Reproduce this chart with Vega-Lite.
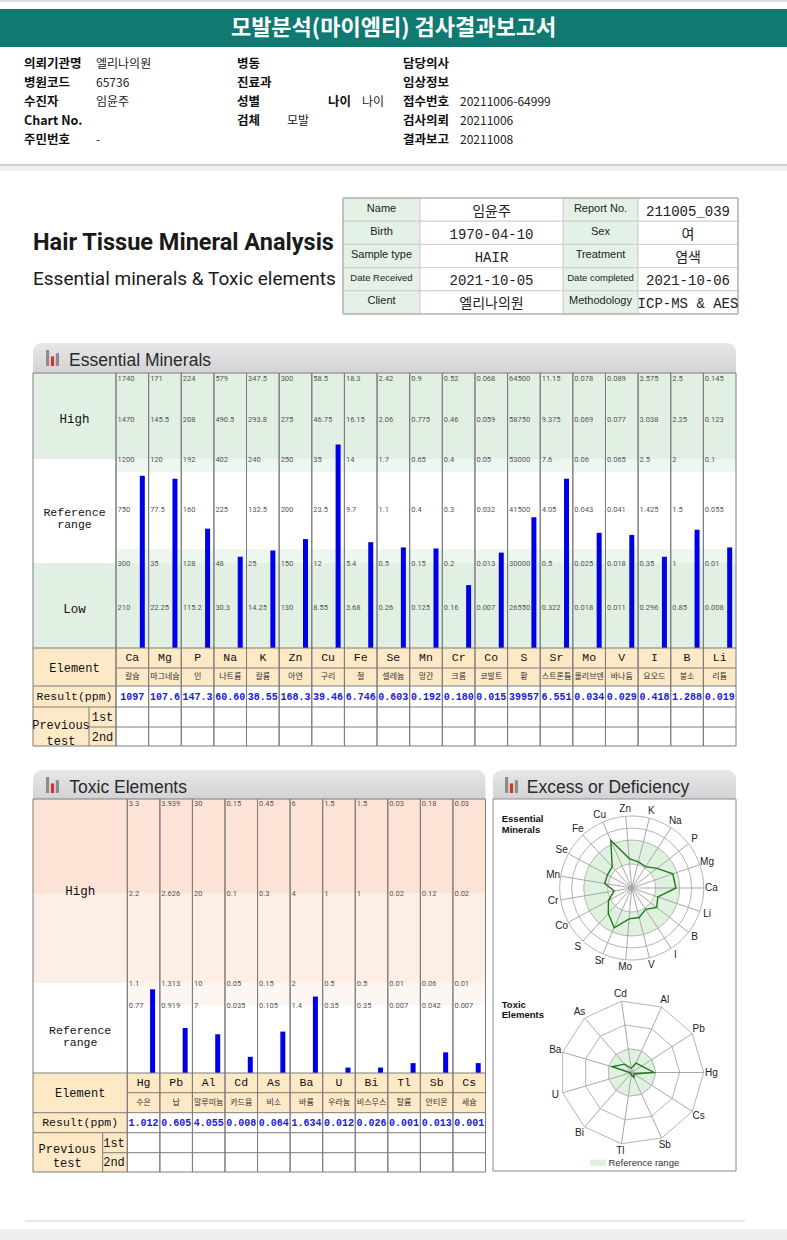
{
"$schema":"https://vega.github.io/schema/vega-lite/v6.json",
"width":787,"height":1240,"padding":0,"autosize":{"type":"none"},"background":"#ffffff",
"config":{"view":{"stroke":null},"axis":{"disable":true},"legend":{"disable":true}},
"resolve":{"scale":{"x":"independent","y":"independent","size":"independent","color":"independent"}},
"datasets":{
"doc":[{"title":"모발분석(마이엠티) 검사결과보고서","main":"Hair Tissue Mineral Analysis","sub":"Essential minerals & Toxic elements"}],
"info":[
{"r":0,"c":0,"k":"l","t":"의뢰기관명"},{"r":0,"c":1,"k":"v","t":"엘리나의원"},{"r":0,"c":2,"k":"l","t":"병동"},{"r":0,"c":6,"k":"l","t":"담당의사"},
{"r":1,"c":0,"k":"l","t":"병원코드"},{"r":1,"c":1,"k":"v","t":"65736"},{"r":1,"c":2,"k":"l","t":"진료과"},{"r":1,"c":6,"k":"l","t":"임상정보"},
{"r":2,"c":0,"k":"l","t":"수진자"},{"r":2,"c":1,"k":"v","t":"임윤주"},{"r":2,"c":2,"k":"l","t":"성별"},{"r":2,"c":4,"k":"l","t":"나이"},{"r":2,"c":5,"k":"v","t":"나이"},{"r":2,"c":6,"k":"l","t":"접수번호"},{"r":2,"c":7,"k":"v","t":"20211006-64999"},
{"r":3,"c":0,"k":"l","t":"Chart No."},{"r":3,"c":2,"k":"l","t":"검체"},{"r":3,"c":3,"k":"v","t":"모발"},{"r":3,"c":6,"k":"l","t":"검사의뢰"},{"r":3,"c":7,"k":"v","t":"20211006"},
{"r":4,"c":0,"k":"l","t":"주민번호"},{"r":4,"c":1,"k":"v","t":"-"},{"r":4,"c":6,"k":"l","t":"결과보고"},{"r":4,"c":7,"k":"v","t":"20211008"}],
"pt":[
{"r":0,"l1":"Name","v1":"임윤주","l2":"Report No.","v2":"211005_039"},
{"r":1,"l1":"Birth","v1":"1970-04-10","l2":"Sex","v2":"여"},
{"r":2,"l1":"Sample type","v1":"HAIR","l2":"Treatment","v2":"염색"},
{"r":3,"l1":"Date Received","v1":"2021-10-05","l2":"Date completed","v2":"2021-10-06"},
{"r":4,"l1":"Client","v1":"엘리나의원","l2":"Methodology","v2":"ICP-MS & AES"}],
"icon":[{"b":0,"h":1,"c":"g"},{"b":1,"h":0.6,"c":"r"},{"b":2,"h":0.8,"c":"g"}],
"ess":[
{"e":"Ca","k":"칼슘","i":0,"s":1.84,"r":"1097"},
{"e":"Mg","k":"마그네슘","i":1,"s":1.81,"r":"107.6"},
{"e":"P","k":"인","i":2,"s":1.33,"r":"147.3"},
{"e":"Na","k":"나트륨","i":3,"s":1.06,"r":"60.60"},
{"e":"K","k":"칼륨","i":4,"s":1.12,"r":"38.55"},
{"e":"Zn","k":"아연","i":5,"s":1.23,"r":"168.3"},
{"e":"Cu","k":"구리","i":6,"s":2.17,"r":"39.46"},
{"e":"Fe","k":"철","i":7,"s":1.2,"r":"6.746"},
{"e":"Se","k":"셀레늄","i":8,"s":1.15,"r":"0.603"},
{"e":"Mn","k":"망간","i":9,"s":1.14,"r":"0.192"},
{"e":"Cr","k":"크롬","i":10,"s":0.74,"r":"0.180"},
{"e":"Co","k":"코발트","i":11,"s":1.1,"r":"0.015"},
{"e":"S","k":"황","i":12,"s":1.44,"r":"39957"},
{"e":"Sr","k":"스트론튬","i":13,"s":1.81,"r":"6.551"},
{"e":"Mo","k":"몰리브덴","i":14,"s":1.29,"r":"0.034"},
{"e":"V","k":"바나듐","i":15,"s":1.27,"r":"0.029"},
{"e":"I","k":"요오드","i":16,"s":1.06,"r":"0.418"},
{"e":"B","k":"붕소","i":17,"s":1.32,"r":"1.288"},
{"e":"Li","k":"리튬","i":18,"s":1.15,"r":"0.019"}],
"essLab":[
{"e":"Ca","t":5,"v":"1740"},{"e":"Ca","t":4,"v":"1470"},{"e":"Ca","t":3,"v":"1200"},{"e":"Ca","t":2,"v":"750"},{"e":"Ca","t":1,"v":"300"},{"e":"Ca","t":0,"v":"210"},
{"e":"Mg","t":5,"v":"171"},{"e":"Mg","t":4,"v":"145.5"},{"e":"Mg","t":3,"v":"120"},{"e":"Mg","t":2,"v":"77.5"},{"e":"Mg","t":1,"v":"35"},{"e":"Mg","t":0,"v":"22.25"},
{"e":"P","t":5,"v":"224"},{"e":"P","t":4,"v":"208"},{"e":"P","t":3,"v":"192"},{"e":"P","t":2,"v":"160"},{"e":"P","t":1,"v":"128"},{"e":"P","t":0,"v":"115.2"},
{"e":"Na","t":5,"v":"579"},{"e":"Na","t":4,"v":"490.5"},{"e":"Na","t":3,"v":"402"},{"e":"Na","t":2,"v":"225"},{"e":"Na","t":1,"v":"48"},{"e":"Na","t":0,"v":"30.3"},
{"e":"K","t":5,"v":"347.5"},{"e":"K","t":4,"v":"293.8"},{"e":"K","t":3,"v":"240"},{"e":"K","t":2,"v":"132.5"},{"e":"K","t":1,"v":"25"},{"e":"K","t":0,"v":"14.25"},
{"e":"Zn","t":5,"v":"300"},{"e":"Zn","t":4,"v":"275"},{"e":"Zn","t":3,"v":"250"},{"e":"Zn","t":2,"v":"200"},{"e":"Zn","t":1,"v":"150"},{"e":"Zn","t":0,"v":"130"},
{"e":"Cu","t":5,"v":"58.5"},{"e":"Cu","t":4,"v":"46.75"},{"e":"Cu","t":3,"v":"35"},{"e":"Cu","t":2,"v":"23.5"},{"e":"Cu","t":1,"v":"12"},{"e":"Cu","t":0,"v":"8.55"},
{"e":"Fe","t":5,"v":"18.3"},{"e":"Fe","t":4,"v":"16.15"},{"e":"Fe","t":3,"v":"14"},{"e":"Fe","t":2,"v":"9.7"},{"e":"Fe","t":1,"v":"5.4"},{"e":"Fe","t":0,"v":"3.68"},
{"e":"Se","t":5,"v":"2.42"},{"e":"Se","t":4,"v":"2.06"},{"e":"Se","t":3,"v":"1.7"},{"e":"Se","t":2,"v":"1.1"},{"e":"Se","t":1,"v":"0.5"},{"e":"Se","t":0,"v":"0.26"},
{"e":"Mn","t":5,"v":"0.9"},{"e":"Mn","t":4,"v":"0.775"},{"e":"Mn","t":3,"v":"0.65"},{"e":"Mn","t":2,"v":"0.4"},{"e":"Mn","t":1,"v":"0.15"},{"e":"Mn","t":0,"v":"0.125"},
{"e":"Cr","t":5,"v":"0.52"},{"e":"Cr","t":4,"v":"0.46"},{"e":"Cr","t":3,"v":"0.4"},{"e":"Cr","t":2,"v":"0.3"},{"e":"Cr","t":1,"v":"0.2"},{"e":"Cr","t":0,"v":"0.16"},
{"e":"Co","t":5,"v":"0.068"},{"e":"Co","t":4,"v":"0.059"},{"e":"Co","t":3,"v":"0.05"},{"e":"Co","t":2,"v":"0.032"},{"e":"Co","t":1,"v":"0.013"},{"e":"Co","t":0,"v":"0.007"},
{"e":"S","t":5,"v":"64500"},{"e":"S","t":4,"v":"58750"},{"e":"S","t":3,"v":"53000"},{"e":"S","t":2,"v":"41500"},{"e":"S","t":1,"v":"30000"},{"e":"S","t":0,"v":"26550"},
{"e":"Sr","t":5,"v":"11.15"},{"e":"Sr","t":4,"v":"9.375"},{"e":"Sr","t":3,"v":"7.6"},{"e":"Sr","t":2,"v":"4.05"},{"e":"Sr","t":1,"v":"0.5"},{"e":"Sr","t":0,"v":"0.322"},
{"e":"Mo","t":5,"v":"0.078"},{"e":"Mo","t":4,"v":"0.069"},{"e":"Mo","t":3,"v":"0.06"},{"e":"Mo","t":2,"v":"0.043"},{"e":"Mo","t":1,"v":"0.025"},{"e":"Mo","t":0,"v":"0.018"},
{"e":"V","t":5,"v":"0.089"},{"e":"V","t":4,"v":"0.077"},{"e":"V","t":3,"v":"0.065"},{"e":"V","t":2,"v":"0.041"},{"e":"V","t":1,"v":"0.018"},{"e":"V","t":0,"v":"0.011"},
{"e":"I","t":5,"v":"3.575"},{"e":"I","t":4,"v":"3.038"},{"e":"I","t":3,"v":"2.5"},{"e":"I","t":2,"v":"1.425"},{"e":"I","t":1,"v":"0.35"},{"e":"I","t":0,"v":"0.296"},
{"e":"B","t":5,"v":"2.5"},{"e":"B","t":4,"v":"2.25"},{"e":"B","t":3,"v":"2"},{"e":"B","t":2,"v":"1.5"},{"e":"B","t":1,"v":"1"},{"e":"B","t":0,"v":"0.85"},
{"e":"Li","t":5,"v":"0.145"},{"e":"Li","t":4,"v":"0.123"},{"e":"Li","t":3,"v":"0.1"},{"e":"Li","t":2,"v":"0.055"},{"e":"Li","t":1,"v":"0.01"},{"e":"Li","t":0,"v":"0.008"}],
"tox":[
{"e":"Hg","k":"수은","i":0,"s":0.93,"r":"1.012"},
{"e":"Pb","k":"납","i":1,"s":0.5,"r":"0.605"},
{"e":"Al","k":"알루미늄","i":2,"s":0.43,"r":"4.055"},
{"e":"Cd","k":"카드뮴","i":3,"s":0.18,"r":"0.008"},
{"e":"As","k":"비소","i":4,"s":0.46,"r":"0.064"},
{"e":"Ba","k":"바륨","i":5,"s":0.85,"r":"1.634"},
{"e":"U","k":"우라늄","i":6,"s":0.06,"r":"0.012"},
{"e":"Bi","k":"비스무스","i":7,"s":0.06,"r":"0.026"},
{"e":"Tl","k":"탈륨","i":8,"s":0.11,"r":"0.001"},
{"e":"Sb","k":"안티몬","i":9,"s":0.23,"r":"0.013"},
{"e":"Cs","k":"세슘","i":10,"s":0.11,"r":"0.001"}],
"toxLab":[
{"e":"Hg","t":3,"v":"3.3"},{"e":"Hg","t":2,"v":"2.2"},{"e":"Hg","t":1,"v":"1.1"},{"e":"Hg","t":0,"v":"0.77"},
{"e":"Pb","t":3,"v":"3.939"},{"e":"Pb","t":2,"v":"2.626"},{"e":"Pb","t":1,"v":"1.313"},{"e":"Pb","t":0,"v":"0.919"},
{"e":"Al","t":3,"v":"30"},{"e":"Al","t":2,"v":"20"},{"e":"Al","t":1,"v":"10"},{"e":"Al","t":0,"v":"7"},
{"e":"Cd","t":3,"v":"0.15"},{"e":"Cd","t":2,"v":"0.1"},{"e":"Cd","t":1,"v":"0.05"},{"e":"Cd","t":0,"v":"0.035"},
{"e":"As","t":3,"v":"0.45"},{"e":"As","t":2,"v":"0.3"},{"e":"As","t":1,"v":"0.15"},{"e":"As","t":0,"v":"0.105"},
{"e":"Ba","t":3,"v":"6"},{"e":"Ba","t":2,"v":"4"},{"e":"Ba","t":1,"v":"2"},{"e":"Ba","t":0,"v":"1.4"},
{"e":"U","t":3,"v":"1.5"},{"e":"U","t":2,"v":"1"},{"e":"U","t":1,"v":"0.5"},{"e":"U","t":0,"v":"0.35"},
{"e":"Bi","t":3,"v":"1.5"},{"e":"Bi","t":2,"v":"1"},{"e":"Bi","t":1,"v":"0.5"},{"e":"Bi","t":0,"v":"0.35"},
{"e":"Tl","t":3,"v":"0.03"},{"e":"Tl","t":2,"v":"0.02"},{"e":"Tl","t":1,"v":"0.01"},{"e":"Tl","t":0,"v":"0.007"},
{"e":"Sb","t":3,"v":"0.18"},{"e":"Sb","t":2,"v":"0.12"},{"e":"Sb","t":1,"v":"0.06"},{"e":"Sb","t":0,"v":"0.042"},
{"e":"Cs","t":3,"v":"0.03"},{"e":"Cs","t":2,"v":"0.02"},{"e":"Cs","t":1,"v":"0.01"},{"e":"Cs","t":0,"v":"0.007"}],
"ringE":[{"ring":1},{"ring":2},{"ring":2.5},{"ring":3}],
"tgrid":[{"lv":1,"k":[0,1,2,3,4,5,6,7,8,9,10]},{"lv":2,"k":[0,1,2,3,4,5,6,7,8,9,10]},{"lv":3,"k":[0,1,2,3,4,5,6,7,8,9,10]}]
},
"data":{"name":"doc"},
"layer":[
{"mark":{"type":"rule","color":"#bcbcbc","strokeWidth":1},"encoding":{"x":{"datum":0,"type":"quantitative","scale":{"domain":[0,1],"range":[0,787]}},"x2":{"datum":1},"y":{"datum":0,"type":"quantitative","scale":{"domain":[0,1],"range":[1,2]}}}},
{"mark":{"type":"rect","color":"#107a72"},"encoding":{"x":{"datum":0,"type":"quantitative","scale":{"domain":[0,1],"range":[0,787]}},"x2":{"datum":1},"y":{"datum":0,"type":"quantitative","scale":{"domain":[0,1],"range":[9,47]}},"y2":{"datum":1}}},
{"mark":{"type":"text","color":"#ffffff","font":"Noto Sans CJK KR","fontSize":22,"fontWeight":"bold","align":"center","baseline":"middle"},"encoding":{"text":{"field":"title"},"x":{"datum":0.5,"type":"quantitative","scale":{"domain":[0,1],"range":[0,787]}},"y":{"datum":0.5,"type":"quantitative","scale":{"domain":[0,1],"range":[9,47]}}}},

{"data":{"name":"info"},"transform":[{"filter":"datum.k=='l'"}],"mark":{"type":"text","align":"left","baseline":"middle","font":"Noto Sans CJK KR","fontSize":12.5,"fontWeight":"bold","color":"#111111"},"encoding":{"text":{"field":"t"},"x":{"field":"c","type":"quantitative","scale":{"domain":[0,1,2,3,4,5,6,7],"range":[24,96,237,287,328,362,403,460],"zero":false,"nice":false}},"y":{"field":"r","type":"quantitative","scale":{"domain":[0,4],"range":[64,140],"zero":false,"nice":false}}}},
{"data":{"name":"info"},"transform":[{"filter":"datum.k=='v'"}],"mark":{"type":"text","align":"left","baseline":"middle","font":"Noto Sans CJK KR","fontSize":12,"color":"#222222"},"encoding":{"text":{"field":"t"},"x":{"field":"c","type":"quantitative","scale":{"domain":[0,1,2,3,4,5,6,7],"range":[24,96,237,287,328,362,403,460],"zero":false,"nice":false}},"y":{"field":"r","type":"quantitative","scale":{"domain":[0,4],"range":[64,140],"zero":false,"nice":false}}}},

{"mark":{"type":"rect","color":"#efefef"},"encoding":{"x":{"datum":0,"type":"quantitative","scale":{"domain":[0,1],"range":[0,787]}},"x2":{"datum":1},"y":{"datum":0.17,"type":"quantitative","scale":{"domain":[0,1],"range":[165,171]}},"y2":{"datum":1}}},
{"mark":{"type":"rule","color":"#a0a0a0","strokeWidth":1},"encoding":{"x":{"datum":0,"type":"quantitative","scale":{"domain":[0,1],"range":[0,787]}},"x2":{"datum":1},"y":{"datum":0,"type":"quantitative","scale":{"domain":[0,1],"range":[165,171]}}}},

{"mark":{"type":"text","align":"left","baseline":"alphabetic","font":"Roboto","fontSize":23.5,"fontWeight":"bold","color":"#1a1a1a"},"encoding":{"text":{"field":"main"},"x":{"datum":0,"type":"quantitative","scale":{"domain":[0,1],"range":[33,787]}},"y":{"datum":0,"type":"quantitative","scale":{"domain":[0,1],"range":[250,285]}}}},
{"mark":{"type":"text","align":"left","baseline":"alphabetic","font":"Roboto","fontSize":19,"color":"#1a1a1a"},"encoding":{"text":{"field":"sub"},"x":{"datum":0,"type":"quantitative","scale":{"domain":[0,1],"range":[33,787]}},"y":{"datum":1,"type":"quantitative","scale":{"domain":[0,1],"range":[250,285]}}}},

{"data":{"name":"pt"},"mark":{"type":"rect","fill":"#e4f1e6","stroke":"#cfcfcf","strokeWidth":1},"encoding":{"x":{"datum":0,"type":"quantitative","scale":{"domain":[0,1,2,3,4],"range":[343,420,563,638,738],"zero":false,"nice":false}},"x2":{"datum":1},"y":{"field":"r","type":"ordinal","scale":{"type":"band","domain":[0,1,2,3,4],"range":[198,314],"paddingInner":0,"paddingOuter":0}}}},
{"data":{"name":"pt"},"mark":{"type":"rect","fill":"#e4f1e6","stroke":"#cfcfcf","strokeWidth":1},"encoding":{"x":{"datum":2,"type":"quantitative","scale":{"domain":[0,1,2,3,4],"range":[343,420,563,638,738],"zero":false,"nice":false}},"x2":{"datum":3},"y":{"field":"r","type":"ordinal","scale":{"type":"band","domain":[0,1,2,3,4],"range":[198,314],"paddingInner":0,"paddingOuter":0}}}},
{"data":{"name":"pt"},"mark":{"type":"rect","fill":"#ffffff","stroke":"#cfcfcf","strokeWidth":1},"encoding":{"x":{"datum":1,"type":"quantitative","scale":{"domain":[0,1,2,3,4],"range":[343,420,563,638,738],"zero":false,"nice":false}},"x2":{"datum":2},"y":{"field":"r","type":"ordinal","scale":{"type":"band","domain":[0,1,2,3,4],"range":[198,314],"paddingInner":0,"paddingOuter":0}}}},
{"data":{"name":"pt"},"mark":{"type":"rect","fill":"#ffffff","stroke":"#cfcfcf","strokeWidth":1},"encoding":{"x":{"datum":3,"type":"quantitative","scale":{"domain":[0,1,2,3,4],"range":[343,420,563,638,738],"zero":false,"nice":false}},"x2":{"datum":4},"y":{"field":"r","type":"ordinal","scale":{"type":"band","domain":[0,1,2,3,4],"range":[198,314],"paddingInner":0,"paddingOuter":0}}}},
{"mark":{"type":"rect","fillOpacity":0,"stroke":"#a0a0a0","strokeWidth":1},"encoding":{"x":{"datum":0,"type":"quantitative","scale":{"domain":[0,1,2,3,4],"range":[343,420,563,638,738],"zero":false,"nice":false}},"x2":{"datum":4},"y":{"datum":0,"type":"quantitative","scale":{"domain":[0,1],"range":[198,314]}},"y2":{"datum":1}}},
{"data":{"name":"pt"},"transform":[{"filter":"length(datum.l1)<=12"}],"mark":{"type":"text","align":"center","baseline":"middle","font":"Liberation Sans","fontSize":11,"dy":-1,"color":"#222222"},"encoding":{"text":{"field":"l1"},"x":{"datum":0.5,"type":"quantitative","scale":{"domain":[0,1,2,3,4],"range":[343,420,563,638,738],"zero":false,"nice":false}},"y":{"field":"r","type":"ordinal","scale":{"type":"band","domain":[0,1,2,3,4],"range":[198,314],"paddingInner":0,"paddingOuter":0}}}},
{"data":{"name":"pt"},"transform":[{"filter":"length(datum.l1)>12"}],"mark":{"type":"text","align":"center","baseline":"middle","font":"Liberation Sans","fontSize":9.5,"dy":-1,"color":"#222222"},"encoding":{"text":{"field":"l1"},"x":{"datum":0.5,"type":"quantitative","scale":{"domain":[0,1,2,3,4],"range":[343,420,563,638,738],"zero":false,"nice":false}},"y":{"field":"r","type":"ordinal","scale":{"type":"band","domain":[0,1,2,3,4],"range":[198,314],"paddingInner":0,"paddingOuter":0}}}},
{"data":{"name":"pt"},"transform":[{"filter":"length(datum.l2)<=12"}],"mark":{"type":"text","align":"center","baseline":"middle","font":"Liberation Sans","fontSize":11,"dy":-1,"color":"#222222"},"encoding":{"text":{"field":"l2"},"x":{"datum":2.5,"type":"quantitative","scale":{"domain":[0,1,2,3,4],"range":[343,420,563,638,738],"zero":false,"nice":false}},"y":{"field":"r","type":"ordinal","scale":{"type":"band","domain":[0,1,2,3,4],"range":[198,314],"paddingInner":0,"paddingOuter":0}}}},
{"data":{"name":"pt"},"transform":[{"filter":"length(datum.l2)>12"}],"mark":{"type":"text","align":"center","baseline":"middle","font":"Liberation Sans","fontSize":9.5,"dy":-1,"color":"#222222"},"encoding":{"text":{"field":"l2"},"x":{"datum":2.5,"type":"quantitative","scale":{"domain":[0,1,2,3,4],"range":[343,420,563,638,738],"zero":false,"nice":false}},"y":{"field":"r","type":"ordinal","scale":{"type":"band","domain":[0,1,2,3,4],"range":[198,314],"paddingInner":0,"paddingOuter":0}}}},
{"data":{"name":"pt"},"mark":{"type":"text","align":"center","baseline":"middle","font":"Liberation Mono, Noto Sans CJK KR","fontSize":14,"dy":2,"color":"#222222"},"encoding":{"text":{"field":"v1"},"x":{"datum":1.5,"type":"quantitative","scale":{"domain":[0,1,2,3,4],"range":[343,420,563,638,738],"zero":false,"nice":false}},"y":{"field":"r","type":"ordinal","scale":{"type":"band","domain":[0,1,2,3,4],"range":[198,314],"paddingInner":0,"paddingOuter":0}}}},
{"data":{"name":"pt"},"mark":{"type":"text","align":"center","baseline":"middle","font":"Liberation Mono, Noto Sans CJK KR","fontSize":14,"dy":2,"color":"#222222"},"encoding":{"text":{"field":"v2"},"x":{"datum":3.5,"type":"quantitative","scale":{"domain":[0,1,2,3,4],"range":[343,420,563,638,738],"zero":false,"nice":false}},"y":{"field":"r","type":"ordinal","scale":{"type":"band","domain":[0,1,2,3,4],"range":[198,314],"paddingInner":0,"paddingOuter":0}}}},

{"mark":{"type":"rect","cornerRadiusTopLeft":9,"cornerRadiusTopRight":9,"color":{"gradient":"linear","x1":0,"y1":0,"x2":0,"y2":1,"stops":[{"offset":0,"color":"#e7e7e9"},{"offset":1,"color":"#d3d3d6"}]}},"encoding":{"x":{"datum":-1,"type":"quantitative","scale":{"domain":[-1,0,19],"range":[33,116,736],"zero":false,"nice":false}},"x2":{"datum":19},"y":{"datum":0,"type":"quantitative","scale":{"domain":[0,1],"range":[373,343]}},"y2":{"datum":1}}},
{"data":{"name":"icon"},"mark":{"type":"bar"},"encoding":{"x":{"field":"b","type":"ordinal","scale":{"type":"band","domain":[0,1,2],"range":[46,59],"paddingInner":0.35,"paddingOuter":0}},"y":{"field":"h","type":"quantitative","scale":{"domain":[0,1],"range":[366,350]}},"color":{"field":"c","type":"nominal","scale":{"domain":["g","r"],"range":["#8c8c8c","#d9302a"]}}}},
{"mark":{"type":"text","text":"Essential Minerals","align":"left","baseline":"alphabetic","font":"Liberation Sans","fontSize":17.5,"color":"#2a2a2a"},"encoding":{"x":{"datum":-0.566,"type":"quantitative","scale":{"domain":[-1,0,19],"range":[33,116,736],"zero":false,"nice":false}},"y":{"datum":0.22,"type":"quantitative","scale":{"domain":[0,1],"range":[373,343]}}}},

{"mark":{"type":"rect","color":"#e1f0e3"},"encoding":{"x":{"datum":-1,"type":"quantitative","scale":{"domain":[-1,0,19],"range":[33,116,736],"zero":false,"nice":false}},"x2":{"datum":19},"y":{"datum":2,"type":"quantitative","scale":{"domain":[-5,-4,-3,-2,-1,0,1,2,3],"range":[746,727,707,686,668,648,563,459,373],"zero":false,"nice":false}},"y2":{"datum":3}}},
{"mark":{"type":"rect","color":"#e1f0e3"},"encoding":{"x":{"datum":-1,"type":"quantitative","scale":{"domain":[-1,0,19],"range":[33,116,736],"zero":false,"nice":false}},"x2":{"datum":19},"y":{"datum":0,"type":"quantitative","scale":{"domain":[-5,-4,-3,-2,-1,0,1,2,3],"range":[746,727,707,686,668,648,563,459,373],"zero":false,"nice":false}},"y2":{"datum":1}}},
{"mark":{"type":"rect","color":"#eef7ef"},"encoding":{"x":{"datum":0,"type":"quantitative","scale":{"domain":[-1,0,19],"range":[33,116,736],"zero":false,"nice":false}},"x2":{"datum":19},"y":{"datum":1.875,"type":"quantitative","scale":{"domain":[-5,-4,-3,-2,-1,0,1,2,3],"range":[746,727,707,686,668,648,563,459,373],"zero":false,"nice":false}},"y2":{"datum":2}}},
{"mark":{"type":"rect","color":"#eef7ef"},"encoding":{"x":{"datum":0,"type":"quantitative","scale":{"domain":[-1,0,19],"range":[33,116,736],"zero":false,"nice":false}},"x2":{"datum":19},"y":{"datum":1,"type":"quantitative","scale":{"domain":[-5,-4,-3,-2,-1,0,1,2,3],"range":[746,727,707,686,668,648,563,459,373],"zero":false,"nice":false}},"y2":{"datum":1.135}}},
{"mark":{"type":"rect","color":"#fde9c6"},"encoding":{"x":{"datum":-1,"type":"quantitative","scale":{"domain":[-1,0,19],"range":[33,116,736],"zero":false,"nice":false}},"x2":{"datum":19},"y":{"datum":-2,"type":"quantitative","scale":{"domain":[-5,-4,-3,-2,-1,0,1,2,3],"range":[746,727,707,686,668,648,563,459,373],"zero":false,"nice":false}},"y2":{"datum":0}}},
{"mark":{"type":"rect","color":"#fde9c6"},"encoding":{"x":{"datum":-1,"type":"quantitative","scale":{"domain":[-1,0,19],"range":[33,116,736],"zero":false,"nice":false}},"x2":{"datum":0},"y":{"datum":-5,"type":"quantitative","scale":{"domain":[-5,-4,-3,-2,-1,0,1,2,3],"range":[746,727,707,686,668,648,563,459,373],"zero":false,"nice":false}},"y2":{"datum":-2}}},

{"data":{"name":"essLab"},"mark":{"type":"text","align":"left","baseline":"middle","dx":1.5,"font":"Roboto","fontSize":7.5,"color":"#555555"},"encoding":{"text":{"field":"v"},"x":{"field":"e","type":"nominal","bandPosition":0,"scale":{"type":"band","domain":["Ca","Mg","P","Na","K","Zn","Cu","Fe","Se","Mn","Cr","Co","S","Sr","Mo","V","I","B","Li"],"range":[116,736],"paddingInner":0,"paddingOuter":0}},"y":{"field":"t","type":"quantitative","scale":{"domain":[0,1,2,3,4,5],"range":[608,564,510,460,420,379],"zero":false,"nice":false}}}},
{"data":{"name":"ess"},"mark":{"type":"bar","width":5,"xOffset":10,"color":"#0000e6"},"encoding":{"x":{"field":"e","type":"nominal","scale":{"type":"band","domain":["Ca","Mg","P","Na","K","Zn","Cu","Fe","Se","Mn","Cr","Co","S","Sr","Mo","V","I","B","Li"],"range":[116,736],"paddingInner":0,"paddingOuter":0}},"y":{"field":"s","type":"quantitative","scale":{"domain":[-5,-4,-3,-2,-1,0,1,2,3],"range":[746,727,707,686,668,648,563,459,373],"zero":false,"nice":false}}}},

{"data":{"name":"ess"},"mark":{"type":"rect","fillOpacity":0,"stroke":"#7d7d7d","strokeWidth":1},"encoding":{"x":{"field":"e","type":"nominal","scale":{"type":"band","domain":["Ca","Mg","P","Na","K","Zn","Cu","Fe","Se","Mn","Cr","Co","S","Sr","Mo","V","I","B","Li"],"range":[116,736],"paddingInner":0,"paddingOuter":0}},"y":{"datum":-5,"type":"quantitative","scale":{"domain":[-5,-4,-3,-2,-1,0,1,2,3],"range":[746,727,707,686,668,648,563,459,373],"zero":false,"nice":false}},"y2":{"datum":3}}},
{"mark":{"type":"rect","fillOpacity":0,"stroke":"#7d7d7d","strokeWidth":1},"encoding":{"x":{"datum":-1,"type":"quantitative","scale":{"domain":[-1,0,19],"range":[33,116,736],"zero":false,"nice":false}},"x2":{"datum":0},"y":{"datum":-5,"type":"quantitative","scale":{"domain":[-5,-4,-3,-2,-1,0,1,2,3],"range":[746,727,707,686,668,648,563,459,373],"zero":false,"nice":false}},"y2":{"datum":3}}},
{"mark":{"type":"rule","color":"#7d7d7d","strokeWidth":1},"encoding":{"x":{"datum":-1,"type":"quantitative","scale":{"domain":[-1,0,19],"range":[33,116,736],"zero":false,"nice":false}},"x2":{"datum":19},"y":{"datum":0,"type":"quantitative","scale":{"domain":[-5,-4,-3,-2,-1,0,1,2,3],"range":[746,727,707,686,668,648,563,459,373],"zero":false,"nice":false}}}},
{"mark":{"type":"rule","color":"#7d7d7d","strokeWidth":1},"encoding":{"x":{"datum":0,"type":"quantitative","scale":{"domain":[-1,0,19],"range":[33,116,736],"zero":false,"nice":false}},"x2":{"datum":19},"y":{"datum":-1,"type":"quantitative","scale":{"domain":[-5,-4,-3,-2,-1,0,1,2,3],"range":[746,727,707,686,668,648,563,459,373],"zero":false,"nice":false}}}},
{"mark":{"type":"rule","color":"#7d7d7d","strokeWidth":1},"encoding":{"x":{"datum":-1,"type":"quantitative","scale":{"domain":[-1,0,19],"range":[33,116,736],"zero":false,"nice":false}},"x2":{"datum":19},"y":{"datum":-2,"type":"quantitative","scale":{"domain":[-5,-4,-3,-2,-1,0,1,2,3],"range":[746,727,707,686,668,648,563,459,373],"zero":false,"nice":false}}}},
{"mark":{"type":"rule","color":"#7d7d7d","strokeWidth":1},"encoding":{"x":{"datum":-1,"type":"quantitative","scale":{"domain":[-1,0,19],"range":[33,116,736],"zero":false,"nice":false}},"x2":{"datum":19},"y":{"datum":-3,"type":"quantitative","scale":{"domain":[-5,-4,-3,-2,-1,0,1,2,3],"range":[746,727,707,686,668,648,563,459,373],"zero":false,"nice":false}}}},
{"mark":{"type":"rule","color":"#7d7d7d","strokeWidth":1},"encoding":{"x":{"datum":-0.325,"type":"quantitative","scale":{"domain":[-1,0,19],"range":[33,116,736],"zero":false,"nice":false}},"x2":{"datum":19},"y":{"datum":-4,"type":"quantitative","scale":{"domain":[-5,-4,-3,-2,-1,0,1,2,3],"range":[746,727,707,686,668,648,563,459,373],"zero":false,"nice":false}}}},
{"mark":{"type":"rule","color":"#7d7d7d","strokeWidth":1},"encoding":{"x":{"datum":-0.325,"type":"quantitative","scale":{"domain":[-1,0,19],"range":[33,116,736],"zero":false,"nice":false}},"y":{"datum":-5,"type":"quantitative","scale":{"domain":[-5,-4,-3,-2,-1,0,1,2,3],"range":[746,727,707,686,668,648,563,459,373],"zero":false,"nice":false}},"y2":{"datum":-3}}},

{"data":{"name":"ess"},"mark":{"type":"text","align":"center","baseline":"middle","font":"Liberation Mono","fontSize":11.5,"color":"#111111"},"encoding":{"text":{"field":"e"},"x":{"field":"e","type":"nominal","scale":{"type":"band","domain":["Ca","Mg","P","Na","K","Zn","Cu","Fe","Se","Mn","Cr","Co","S","Sr","Mo","V","I","B","Li"],"range":[116,736],"paddingInner":0,"paddingOuter":0}},"y":{"datum":-0.5,"type":"quantitative","scale":{"domain":[-5,-4,-3,-2,-1,0,1,2,3],"range":[746,727,707,686,668,648,563,459,373],"zero":false,"nice":false}}}},
{"data":{"name":"ess"},"mark":{"type":"text","align":"center","baseline":"middle","font":"Noto Sans CJK KR","fontSize":8,"color":"#333333"},"encoding":{"text":{"field":"k"},"x":{"field":"e","type":"nominal","scale":{"type":"band","domain":["Ca","Mg","P","Na","K","Zn","Cu","Fe","Se","Mn","Cr","Co","S","Sr","Mo","V","I","B","Li"],"range":[116,736],"paddingInner":0,"paddingOuter":0}},"y":{"datum":-1.5,"type":"quantitative","scale":{"domain":[-5,-4,-3,-2,-1,0,1,2,3],"range":[746,727,707,686,668,648,563,459,373],"zero":false,"nice":false}}}},
{"data":{"name":"ess"},"mark":{"type":"text","align":"center","baseline":"middle","font":"Liberation Mono","fontSize":10,"fontWeight":"bold","color":"#2020cc"},"encoding":{"text":{"field":"r"},"x":{"field":"e","type":"nominal","scale":{"type":"band","domain":["Ca","Mg","P","Na","K","Zn","Cu","Fe","Se","Mn","Cr","Co","S","Sr","Mo","V","I","B","Li"],"range":[116,736],"paddingInner":0,"paddingOuter":0}},"y":{"datum":-2.5,"type":"quantitative","scale":{"domain":[-5,-4,-3,-2,-1,0,1,2,3],"range":[746,727,707,686,668,648,563,459,373],"zero":false,"nice":false}}}},

{"mark":{"type":"text","text":"High","align":"center","baseline":"middle","font":"Liberation Mono","fontSize":12.5,"color":"#111111"},"encoding":{"x":{"datum":-0.5,"type":"quantitative","scale":{"domain":[-1,0,19],"range":[33,116,736],"zero":false,"nice":false}},"y":{"datum":2.465,"type":"quantitative","scale":{"domain":[-5,-4,-3,-2,-1,0,1,2,3],"range":[746,727,707,686,668,648,563,459,373],"zero":false,"nice":false}}}},
{"mark":{"type":"text","text":"Reference\nrange","lineBreak":"\n","lineHeight":12,"align":"center","baseline":"middle","font":"Liberation Mono","fontSize":11.5,"color":"#111111"},"encoding":{"x":{"datum":-0.5,"type":"quantitative","scale":{"domain":[-1,0,19],"range":[33,116,736],"zero":false,"nice":false}},"y":{"datum":1.48,"type":"quantitative","scale":{"domain":[-5,-4,-3,-2,-1,0,1,2,3],"range":[746,727,707,686,668,648,563,459,373],"zero":false,"nice":false}}}},
{"mark":{"type":"text","text":"Low","align":"center","baseline":"middle","font":"Liberation Mono","fontSize":12.5,"color":"#111111"},"encoding":{"x":{"datum":-0.5,"type":"quantitative","scale":{"domain":[-1,0,19],"range":[33,116,736],"zero":false,"nice":false}},"y":{"datum":0.459,"type":"quantitative","scale":{"domain":[-5,-4,-3,-2,-1,0,1,2,3],"range":[746,727,707,686,668,648,563,459,373],"zero":false,"nice":false}}}},
{"mark":{"type":"text","text":"Element","align":"center","baseline":"middle","font":"Liberation Mono","fontSize":12,"color":"#111111"},"encoding":{"x":{"datum":-0.5,"type":"quantitative","scale":{"domain":[-1,0,19],"range":[33,116,736],"zero":false,"nice":false}},"y":{"datum":-1,"type":"quantitative","scale":{"domain":[-5,-4,-3,-2,-1,0,1,2,3],"range":[746,727,707,686,668,648,563,459,373],"zero":false,"nice":false}}}},
{"mark":{"type":"text","text":"Result(ppm)","align":"center","baseline":"middle","font":"Liberation Mono","fontSize":11.5,"color":"#111111"},"encoding":{"x":{"datum":-0.5,"type":"quantitative","scale":{"domain":[-1,0,19],"range":[33,116,736],"zero":false,"nice":false}},"y":{"datum":-2.5,"type":"quantitative","scale":{"domain":[-5,-4,-3,-2,-1,0,1,2,3],"range":[746,727,707,686,668,648,563,459,373],"zero":false,"nice":false}}}},
{"mark":{"type":"text","text":"Previous\ntest","lineBreak":"\n","lineHeight":16,"align":"center","baseline":"middle","font":"Liberation Mono","fontSize":12,"color":"#111111"},"encoding":{"x":{"datum":-0.663,"type":"quantitative","scale":{"domain":[-1,0,19],"range":[33,116,736],"zero":false,"nice":false}},"y":{"datum":-3.9,"type":"quantitative","scale":{"domain":[-5,-4,-3,-2,-1,0,1,2,3],"range":[746,727,707,686,668,648,563,459,373],"zero":false,"nice":false}}}},
{"mark":{"type":"text","text":"1st","align":"center","baseline":"middle","font":"Liberation Mono","fontSize":12,"color":"#111111"},"encoding":{"x":{"datum":-0.163,"type":"quantitative","scale":{"domain":[-1,0,19],"range":[33,116,736],"zero":false,"nice":false}},"y":{"datum":-3.5,"type":"quantitative","scale":{"domain":[-5,-4,-3,-2,-1,0,1,2,3],"range":[746,727,707,686,668,648,563,459,373],"zero":false,"nice":false}}}},
{"mark":{"type":"text","text":"2nd","align":"center","baseline":"middle","font":"Liberation Mono","fontSize":12,"color":"#111111"},"encoding":{"x":{"datum":-0.163,"type":"quantitative","scale":{"domain":[-1,0,19],"range":[33,116,736],"zero":false,"nice":false}},"y":{"datum":-4.5,"type":"quantitative","scale":{"domain":[-5,-4,-3,-2,-1,0,1,2,3],"range":[746,727,707,686,668,648,563,459,373],"zero":false,"nice":false}}}},

{"mark":{"type":"rect","cornerRadiusTopLeft":9,"cornerRadiusTopRight":9,"color":{"gradient":"linear","x1":0,"y1":0,"x2":0,"y2":1,"stops":[{"offset":0,"color":"#e7e7e9"},{"offset":1,"color":"#d3d3d6"}]}},"encoding":{"x":{"datum":-1,"type":"quantitative","scale":{"domain":[-1,0,11],"range":[33,127.3,485.5],"zero":false,"nice":false}},"x2":{"datum":11},"y":{"datum":0,"type":"quantitative","scale":{"domain":[0,1],"range":[799,770]}},"y2":{"datum":1}}},
{"data":{"name":"icon"},"mark":{"type":"bar"},"encoding":{"x":{"field":"b","type":"ordinal","scale":{"type":"band","domain":[0,1,2],"range":[46,59],"paddingInner":0.35,"paddingOuter":0}},"y":{"field":"h","type":"quantitative","scale":{"domain":[0,1],"range":[793,777]}},"color":{"field":"c","type":"nominal","scale":{"domain":["g","r"],"range":["#8c8c8c","#d9302a"]}}}},
{"mark":{"type":"text","text":"Toxic Elements","align":"left","baseline":"alphabetic","font":"Liberation Sans","fontSize":17.5,"color":"#2a2a2a"},"encoding":{"x":{"datum":-0.615,"type":"quantitative","scale":{"domain":[-1,0,11],"range":[33,127.3,485.5],"zero":false,"nice":false}},"y":{"datum":0.22,"type":"quantitative","scale":{"domain":[0,1],"range":[799,770]}}}},

{"mark":{"type":"rect","color":"#fce3d6"},"encoding":{"x":{"datum":-1,"type":"quantitative","scale":{"domain":[-1,0,11],"range":[33,127.3,485.5],"zero":false,"nice":false}},"x2":{"datum":11},"y":{"datum":2,"type":"quantitative","scale":{"domain":[-5,-4,-3,-2,-1,0,1,2,3],"range":[1172,1152.7,1132.7,1112.7,1092.7,1073,983,893,799],"zero":false,"nice":false}},"y2":{"datum":3}}},
{"mark":{"type":"rect","color":"#fdeee6"},"encoding":{"x":{"datum":-1,"type":"quantitative","scale":{"domain":[-1,0,11],"range":[33,127.3,485.5],"zero":false,"nice":false}},"x2":{"datum":11},"y":{"datum":1,"type":"quantitative","scale":{"domain":[-5,-4,-3,-2,-1,0,1,2,3],"range":[1172,1152.7,1132.7,1112.7,1092.7,1073,983,893,799],"zero":false,"nice":false}},"y2":{"datum":2}}},
{"mark":{"type":"rect","color":"#fef6f1"},"encoding":{"x":{"datum":0,"type":"quantitative","scale":{"domain":[-1,0,11],"range":[33,127.3,485.5],"zero":false,"nice":false}},"x2":{"datum":11},"y":{"datum":0.755,"type":"quantitative","scale":{"domain":[-5,-4,-3,-2,-1,0,1,2,3],"range":[1172,1152.7,1132.7,1112.7,1092.7,1073,983,893,799],"zero":false,"nice":false}},"y2":{"datum":1}}},
{"mark":{"type":"rect","color":"#fde9c6"},"encoding":{"x":{"datum":-1,"type":"quantitative","scale":{"domain":[-1,0,11],"range":[33,127.3,485.5],"zero":false,"nice":false}},"x2":{"datum":11},"y":{"datum":-2,"type":"quantitative","scale":{"domain":[-5,-4,-3,-2,-1,0,1,2,3],"range":[1172,1152.7,1132.7,1112.7,1092.7,1073,983,893,799],"zero":false,"nice":false}},"y2":{"datum":0}}},
{"mark":{"type":"rect","color":"#fde9c6"},"encoding":{"x":{"datum":-1,"type":"quantitative","scale":{"domain":[-1,0,11],"range":[33,127.3,485.5],"zero":false,"nice":false}},"x2":{"datum":0},"y":{"datum":-5,"type":"quantitative","scale":{"domain":[-5,-4,-3,-2,-1,0,1,2,3],"range":[1172,1152.7,1132.7,1112.7,1092.7,1073,983,893,799],"zero":false,"nice":false}},"y2":{"datum":-2}}},

{"data":{"name":"toxLab"},"mark":{"type":"text","align":"left","baseline":"middle","dx":1.5,"font":"Roboto","fontSize":7.5,"color":"#555555"},"encoding":{"text":{"field":"v"},"x":{"field":"e","type":"nominal","bandPosition":0,"scale":{"type":"band","domain":["Hg","Pb","Al","Cd","As","Ba","U","Bi","Tl","Sb","Cs"],"range":[127.3,485.5],"paddingInner":0,"paddingOuter":0}},"y":{"field":"t","type":"quantitative","scale":{"domain":[0,1,2,3],"range":[1006,984,894,804],"zero":false,"nice":false}}}},
{"data":{"name":"tox"},"mark":{"type":"bar","width":5,"xOffset":9,"color":"#0000e6"},"encoding":{"x":{"field":"e","type":"nominal","scale":{"type":"band","domain":["Hg","Pb","Al","Cd","As","Ba","U","Bi","Tl","Sb","Cs"],"range":[127.3,485.5],"paddingInner":0,"paddingOuter":0}},"y":{"field":"s","type":"quantitative","scale":{"domain":[-5,-4,-3,-2,-1,0,1,2,3],"range":[1172,1152.7,1132.7,1112.7,1092.7,1073,983,893,799],"zero":false,"nice":false}}}},

{"data":{"name":"tox"},"mark":{"type":"rect","fillOpacity":0,"stroke":"#7d7d7d","strokeWidth":1},"encoding":{"x":{"field":"e","type":"nominal","scale":{"type":"band","domain":["Hg","Pb","Al","Cd","As","Ba","U","Bi","Tl","Sb","Cs"],"range":[127.3,485.5],"paddingInner":0,"paddingOuter":0}},"y":{"datum":-5,"type":"quantitative","scale":{"domain":[-5,-4,-3,-2,-1,0,1,2,3],"range":[1172,1152.7,1132.7,1112.7,1092.7,1073,983,893,799],"zero":false,"nice":false}},"y2":{"datum":3}}},
{"mark":{"type":"rect","fillOpacity":0,"stroke":"#7d7d7d","strokeWidth":1},"encoding":{"x":{"datum":-1,"type":"quantitative","scale":{"domain":[-1,0,11],"range":[33,127.3,485.5],"zero":false,"nice":false}},"x2":{"datum":0},"y":{"datum":-5,"type":"quantitative","scale":{"domain":[-5,-4,-3,-2,-1,0,1,2,3],"range":[1172,1152.7,1132.7,1112.7,1092.7,1073,983,893,799],"zero":false,"nice":false}},"y2":{"datum":3}}},
{"mark":{"type":"rule","color":"#7d7d7d","strokeWidth":1},"encoding":{"x":{"datum":-1,"type":"quantitative","scale":{"domain":[-1,0,11],"range":[33,127.3,485.5],"zero":false,"nice":false}},"x2":{"datum":11},"y":{"datum":0,"type":"quantitative","scale":{"domain":[-5,-4,-3,-2,-1,0,1,2,3],"range":[1172,1152.7,1132.7,1112.7,1092.7,1073,983,893,799],"zero":false,"nice":false}}}},
{"mark":{"type":"rule","color":"#7d7d7d","strokeWidth":1},"encoding":{"x":{"datum":0,"type":"quantitative","scale":{"domain":[-1,0,11],"range":[33,127.3,485.5],"zero":false,"nice":false}},"x2":{"datum":11},"y":{"datum":-1,"type":"quantitative","scale":{"domain":[-5,-4,-3,-2,-1,0,1,2,3],"range":[1172,1152.7,1132.7,1112.7,1092.7,1073,983,893,799],"zero":false,"nice":false}}}},
{"mark":{"type":"rule","color":"#7d7d7d","strokeWidth":1},"encoding":{"x":{"datum":-1,"type":"quantitative","scale":{"domain":[-1,0,11],"range":[33,127.3,485.5],"zero":false,"nice":false}},"x2":{"datum":11},"y":{"datum":-2,"type":"quantitative","scale":{"domain":[-5,-4,-3,-2,-1,0,1,2,3],"range":[1172,1152.7,1132.7,1112.7,1092.7,1073,983,893,799],"zero":false,"nice":false}}}},
{"mark":{"type":"rule","color":"#7d7d7d","strokeWidth":1},"encoding":{"x":{"datum":-1,"type":"quantitative","scale":{"domain":[-1,0,11],"range":[33,127.3,485.5],"zero":false,"nice":false}},"x2":{"datum":11},"y":{"datum":-3,"type":"quantitative","scale":{"domain":[-5,-4,-3,-2,-1,0,1,2,3],"range":[1172,1152.7,1132.7,1112.7,1092.7,1073,983,893,799],"zero":false,"nice":false}}}},
{"mark":{"type":"rule","color":"#7d7d7d","strokeWidth":1},"encoding":{"x":{"datum":-0.261,"type":"quantitative","scale":{"domain":[-1,0,11],"range":[33,127.3,485.5],"zero":false,"nice":false}},"x2":{"datum":11},"y":{"datum":-4,"type":"quantitative","scale":{"domain":[-5,-4,-3,-2,-1,0,1,2,3],"range":[1172,1152.7,1132.7,1112.7,1092.7,1073,983,893,799],"zero":false,"nice":false}}}},
{"mark":{"type":"rule","color":"#7d7d7d","strokeWidth":1},"encoding":{"x":{"datum":-0.261,"type":"quantitative","scale":{"domain":[-1,0,11],"range":[33,127.3,485.5],"zero":false,"nice":false}},"y":{"datum":-5,"type":"quantitative","scale":{"domain":[-5,-4,-3,-2,-1,0,1,2,3],"range":[1172,1152.7,1132.7,1112.7,1092.7,1073,983,893,799],"zero":false,"nice":false}},"y2":{"datum":-3}}},

{"data":{"name":"tox"},"mark":{"type":"text","align":"center","baseline":"middle","font":"Liberation Mono","fontSize":11.5,"color":"#111111"},"encoding":{"text":{"field":"e"},"x":{"field":"e","type":"nominal","scale":{"type":"band","domain":["Hg","Pb","Al","Cd","As","Ba","U","Bi","Tl","Sb","Cs"],"range":[127.3,485.5],"paddingInner":0,"paddingOuter":0}},"y":{"datum":-0.5,"type":"quantitative","scale":{"domain":[-5,-4,-3,-2,-1,0,1,2,3],"range":[1172,1152.7,1132.7,1112.7,1092.7,1073,983,893,799],"zero":false,"nice":false}}}},
{"data":{"name":"tox"},"mark":{"type":"text","align":"center","baseline":"middle","font":"Noto Sans CJK KR","fontSize":8,"color":"#333333"},"encoding":{"text":{"field":"k"},"x":{"field":"e","type":"nominal","scale":{"type":"band","domain":["Hg","Pb","Al","Cd","As","Ba","U","Bi","Tl","Sb","Cs"],"range":[127.3,485.5],"paddingInner":0,"paddingOuter":0}},"y":{"datum":-1.5,"type":"quantitative","scale":{"domain":[-5,-4,-3,-2,-1,0,1,2,3],"range":[1172,1152.7,1132.7,1112.7,1092.7,1073,983,893,799],"zero":false,"nice":false}}}},
{"data":{"name":"tox"},"mark":{"type":"text","align":"center","baseline":"middle","font":"Liberation Mono","fontSize":10,"fontWeight":"bold","color":"#2020cc"},"encoding":{"text":{"field":"r"},"x":{"field":"e","type":"nominal","scale":{"type":"band","domain":["Hg","Pb","Al","Cd","As","Ba","U","Bi","Tl","Sb","Cs"],"range":[127.3,485.5],"paddingInner":0,"paddingOuter":0}},"y":{"datum":-2.5,"type":"quantitative","scale":{"domain":[-5,-4,-3,-2,-1,0,1,2,3],"range":[1172,1152.7,1132.7,1112.7,1092.7,1073,983,893,799],"zero":false,"nice":false}}}},

{"mark":{"type":"text","text":"High","align":"center","baseline":"middle","font":"Liberation Mono","fontSize":12.5,"color":"#111111"},"encoding":{"x":{"datum":-0.5,"type":"quantitative","scale":{"domain":[-1,0,11],"range":[33,127.3,485.5],"zero":false,"nice":false}},"y":{"datum":2.02,"type":"quantitative","scale":{"domain":[-5,-4,-3,-2,-1,0,1,2,3],"range":[1172,1152.7,1132.7,1112.7,1092.7,1073,983,893,799],"zero":false,"nice":false}}}},
{"mark":{"type":"text","text":"Reference\nrange","lineBreak":"\n","lineHeight":12,"align":"center","baseline":"middle","font":"Liberation Mono","fontSize":11.5,"color":"#111111"},"encoding":{"x":{"datum":-0.5,"type":"quantitative","scale":{"domain":[-1,0,11],"range":[33,127.3,485.5],"zero":false,"nice":false}},"y":{"datum":0.47,"type":"quantitative","scale":{"domain":[-5,-4,-3,-2,-1,0,1,2,3],"range":[1172,1152.7,1132.7,1112.7,1092.7,1073,983,893,799],"zero":false,"nice":false}}}},
{"mark":{"type":"text","text":"Element","align":"center","baseline":"middle","font":"Liberation Mono","fontSize":12,"color":"#111111"},"encoding":{"x":{"datum":-0.5,"type":"quantitative","scale":{"domain":[-1,0,11],"range":[33,127.3,485.5],"zero":false,"nice":false}},"y":{"datum":-1,"type":"quantitative","scale":{"domain":[-5,-4,-3,-2,-1,0,1,2,3],"range":[1172,1152.7,1132.7,1112.7,1092.7,1073,983,893,799],"zero":false,"nice":false}}}},
{"mark":{"type":"text","text":"Result(ppm)","align":"center","baseline":"middle","font":"Liberation Mono","fontSize":11.5,"color":"#111111"},"encoding":{"x":{"datum":-0.5,"type":"quantitative","scale":{"domain":[-1,0,11],"range":[33,127.3,485.5],"zero":false,"nice":false}},"y":{"datum":-2.5,"type":"quantitative","scale":{"domain":[-5,-4,-3,-2,-1,0,1,2,3],"range":[1172,1152.7,1132.7,1112.7,1092.7,1073,983,893,799],"zero":false,"nice":false}}}},
{"mark":{"type":"text","text":"Previous\ntest","lineBreak":"\n","lineHeight":14,"align":"center","baseline":"middle","font":"Liberation Mono","fontSize":12,"color":"#111111"},"encoding":{"x":{"datum":-0.636,"type":"quantitative","scale":{"domain":[-1,0,11],"range":[33,127.3,485.5],"zero":false,"nice":false}},"y":{"datum":-3.8,"type":"quantitative","scale":{"domain":[-5,-4,-3,-2,-1,0,1,2,3],"range":[1172,1152.7,1132.7,1112.7,1092.7,1073,983,893,799],"zero":false,"nice":false}}}},
{"mark":{"type":"text","text":"1st","align":"center","baseline":"middle","font":"Liberation Mono","fontSize":12,"color":"#111111"},"encoding":{"x":{"datum":-0.141,"type":"quantitative","scale":{"domain":[-1,0,11],"range":[33,127.3,485.5],"zero":false,"nice":false}},"y":{"datum":-3.5,"type":"quantitative","scale":{"domain":[-5,-4,-3,-2,-1,0,1,2,3],"range":[1172,1152.7,1132.7,1112.7,1092.7,1073,983,893,799],"zero":false,"nice":false}}}},
{"mark":{"type":"text","text":"2nd","align":"center","baseline":"middle","font":"Liberation Mono","fontSize":12,"color":"#111111"},"encoding":{"x":{"datum":-0.141,"type":"quantitative","scale":{"domain":[-1,0,11],"range":[33,127.3,485.5],"zero":false,"nice":false}},"y":{"datum":-4.5,"type":"quantitative","scale":{"domain":[-5,-4,-3,-2,-1,0,1,2,3],"range":[1172,1152.7,1132.7,1112.7,1092.7,1073,983,893,799],"zero":false,"nice":false}}}},

{"mark":{"type":"rect","cornerRadiusTopLeft":9,"cornerRadiusTopRight":9,"color":{"gradient":"linear","x1":0,"y1":0,"x2":0,"y2":1,"stops":[{"offset":0,"color":"#e7e7e9"},{"offset":1,"color":"#d3d3d6"}]}},"encoding":{"x":{"datum":0,"type":"quantitative","scale":{"domain":[0,1],"range":[493,736]}},"x2":{"datum":1},"y":{"datum":0,"type":"quantitative","scale":{"domain":[0,1],"range":[799,770]}},"y2":{"datum":1}}},
{"data":{"name":"icon"},"mark":{"type":"bar"},"encoding":{"x":{"field":"b","type":"ordinal","scale":{"type":"band","domain":[0,1,2],"range":[505,518],"paddingInner":0.35,"paddingOuter":0}},"y":{"field":"h","type":"quantitative","scale":{"domain":[0,1],"range":[793,777]}},"color":{"field":"c","type":"nominal","scale":{"domain":["g","r"],"range":["#8c8c8c","#d9302a"]}}}},
{"mark":{"type":"text","text":"Excess or Deficiency","align":"left","baseline":"alphabetic","font":"Liberation Sans","fontSize":17.5,"color":"#2a2a2a"},"encoding":{"x":{"datum":0.139,"type":"quantitative","scale":{"domain":[0,1],"range":[493,736]}},"y":{"datum":0.22,"type":"quantitative","scale":{"domain":[0,1],"range":[799,770]}}}},
{"mark":{"type":"rect","fillOpacity":0,"stroke":"#8c8c8c","strokeWidth":1},"encoding":{"x":{"datum":0,"type":"quantitative","scale":{"domain":[0,1],"range":[493,736]}},"x2":{"datum":1},"y":{"datum":0,"type":"quantitative","scale":{"domain":[0,1],"range":[799,1171]}},"y2":{"datum":1}}},
{"mark":{"type":"text","text":"Essential\nMinerals","lineBreak":"\n","lineHeight":10.5,"align":"left","baseline":"middle","font":"Liberation Sans","fontSize":9.5,"fontWeight":"bold","color":"#111111"},"encoding":{"x":{"datum":0.036,"type":"quantitative","scale":{"domain":[0,1],"range":[493,736]}},"y":{"datum":0.054,"type":"quantitative","scale":{"domain":[0,1],"range":[799,1171]}}}},
{"mark":{"type":"text","text":"Toxic\nElements","lineBreak":"\n","lineHeight":10.5,"align":"left","baseline":"middle","font":"Liberation Sans","fontSize":9.5,"fontWeight":"bold","color":"#111111"},"encoding":{"x":{"datum":0.036,"type":"quantitative","scale":{"domain":[0,1],"range":[493,736]}},"y":{"datum":0.553,"type":"quantitative","scale":{"domain":[0,1],"range":[799,1171]}}}},
{"mark":{"type":"rect","color":"#dff1df"},"encoding":{"x":{"datum":0.399,"type":"quantitative","scale":{"domain":[0,1],"range":[493,736]}},"x2":{"datum":0.465},"y":{"datum":0.969,"type":"quantitative","scale":{"domain":[0,1],"range":[799,1171]}},"y2":{"datum":0.9866}}},
{"mark":{"type":"text","text":"Reference range","align":"left","baseline":"middle","font":"Liberation Sans","fontSize":9.5,"color":"#333333"},"encoding":{"x":{"datum":0.475,"type":"quantitative","scale":{"domain":[0,1],"range":[493,736]}},"y":{"datum":0.979,"type":"quantitative","scale":{"domain":[0,1],"range":[799,1171]}}}},

{"data":{"name":"ringE"},"transform":[{"filter":"datum.ring==2"}],"mark":{"type":"point","shape":"circle","filled":true,"color":"#dff1df","opacity":1,"strokeWidth":0},"encoding":{"x":{"datum":0,"type":"quantitative","scale":{"domain":[-3,3],"range":[559.7,703.7]}},"y":{"datum":0,"type":"quantitative","scale":{"domain":[-3,3],"range":[960,816]}},"size":{"field":"ring","type":"quantitative","scale":{"type":"pow","exponent":2,"domain":[0,3],"range":[0,20736]}}}},
{"data":{"name":"ringE"},"transform":[{"filter":"datum.ring==1"}],"mark":{"type":"point","shape":"circle","filled":true,"color":"#ffffff","opacity":1,"strokeWidth":0},"encoding":{"x":{"datum":0,"type":"quantitative","scale":{"domain":[-3,3],"range":[559.7,703.7]}},"y":{"datum":0,"type":"quantitative","scale":{"domain":[-3,3],"range":[960,816]}},"size":{"field":"ring","type":"quantitative","scale":{"type":"pow","exponent":2,"domain":[0,3],"range":[0,20736]}}}},
{"data":{"name":"ringE"},"mark":{"type":"point","shape":"circle","filled":false,"color":"#b5b5b5","opacity":1,"strokeWidth":1},"encoding":{"x":{"datum":0,"type":"quantitative","scale":{"domain":[-3,3],"range":[559.7,703.7]}},"y":{"datum":0,"type":"quantitative","scale":{"domain":[-3,3],"range":[960,816]}},"size":{"field":"ring","type":"quantitative","scale":{"type":"pow","exponent":2,"domain":[0,3],"range":[0,20736]}}}},
{"data":{"name":"ess"},"transform":[{"calculate":"datum.i*2*PI/19","as":"a"},{"calculate":"3*cos(datum.a)","as":"ox"},{"calculate":"3*sin(datum.a)","as":"oy"},{"calculate":"0","as":"c0"}],"mark":{"type":"rule","color":"#a8a8a8","strokeWidth":1},"encoding":{"x":{"field":"ox","type":"quantitative","scale":{"domain":[-3,3],"range":[559.7,703.7]}},"y":{"field":"oy","type":"quantitative","scale":{"domain":[-3,3],"range":[960,816]}},"x2":{"field":"c0"},"y2":{"field":"c0"}}},
{"data":{"name":"ess"},"transform":[{"calculate":"datum.i*2*PI/19","as":"a"},{"calculate":"datum.s*cos(datum.a)","as":"px"},{"calculate":"datum.s*sin(datum.a)","as":"py"}],"mark":{"type":"line","interpolate":"linear-closed","color":"#1f7a1f","strokeWidth":1.4},"encoding":{"x":{"field":"px","type":"quantitative","scale":{"domain":[-3,3],"range":[559.7,703.7]}},"y":{"field":"py","type":"quantitative","scale":{"domain":[-3,3],"range":[960,816]}},"order":{"field":"i","type":"quantitative"}}},
{"data":{"name":"ess"},"transform":[{"calculate":"datum.i*2*PI/19","as":"a"},{"calculate":"3.32*cos(datum.a)","as":"lx"},{"calculate":"3.32*sin(datum.a)","as":"ly"}],"mark":{"type":"text","align":"center","baseline":"middle","font":"Liberation Sans","fontSize":10,"color":"#222222"},"encoding":{"text":{"field":"e"},"x":{"field":"lx","type":"quantitative","scale":{"domain":[-3,3],"range":[559.7,703.7]}},"y":{"field":"ly","type":"quantitative","scale":{"domain":[-3,3],"range":[960,816]}}}},

{"data":{"name":"tgrid"},"transform":[{"filter":"datum.lv==1"}],"mark":{"type":"point","shape":"circle","filled":true,"color":"#dff1df","opacity":1,"strokeWidth":0},"encoding":{"x":{"datum":0,"type":"quantitative","scale":{"domain":[-3,3],"range":[559.7,703.7]}},"y":{"datum":0,"type":"quantitative","scale":{"domain":[-3,3],"range":[1144.5,1000.5]}},"size":{"field":"lv","type":"quantitative","scale":{"type":"pow","exponent":2,"domain":[0,3],"range":[0,20736]}}}},
{"data":{"name":"tgrid"},"transform":[{"flatten":["k"]},{"calculate":"datum.k*2*PI/11","as":"a"},{"calculate":"datum.lv*cos(datum.a)","as":"gx"},{"calculate":"datum.lv*sin(datum.a)","as":"gy"}],"mark":{"type":"line","interpolate":"linear-closed","color":"#b5b5b5","strokeWidth":1},"encoding":{"x":{"field":"gx","type":"quantitative","scale":{"domain":[-3,3],"range":[559.7,703.7]}},"y":{"field":"gy","type":"quantitative","scale":{"domain":[-3,3],"range":[1144.5,1000.5]}},"detail":{"field":"lv","type":"nominal"},"order":{"field":"k","type":"quantitative"}}},
{"data":{"name":"tox"},"transform":[{"calculate":"datum.i*2*PI/11","as":"a"},{"calculate":"3*cos(datum.a)","as":"ox"},{"calculate":"3*sin(datum.a)","as":"oy"},{"calculate":"0","as":"c0"}],"mark":{"type":"rule","color":"#a8a8a8","strokeWidth":1},"encoding":{"x":{"field":"ox","type":"quantitative","scale":{"domain":[-3,3],"range":[559.7,703.7]}},"y":{"field":"oy","type":"quantitative","scale":{"domain":[-3,3],"range":[1144.5,1000.5]}},"x2":{"field":"c0"},"y2":{"field":"c0"}}},
{"data":{"name":"tox"},"transform":[{"calculate":"datum.i*2*PI/11","as":"a"},{"calculate":"datum.s*cos(datum.a)","as":"px"},{"calculate":"datum.s*sin(datum.a)","as":"py"}],"mark":{"type":"line","interpolate":"linear-closed","color":"#1f7a1f","strokeWidth":1.4},"encoding":{"x":{"field":"px","type":"quantitative","scale":{"domain":[-3,3],"range":[559.7,703.7]}},"y":{"field":"py","type":"quantitative","scale":{"domain":[-3,3],"range":[1144.5,1000.5]}},"order":{"field":"i","type":"quantitative"}}},
{"data":{"name":"tox"},"transform":[{"calculate":"datum.i*2*PI/11","as":"a"},{"calculate":"3.32*cos(datum.a)","as":"lx"},{"calculate":"3.32*sin(datum.a)","as":"ly"}],"mark":{"type":"text","align":"center","baseline":"middle","font":"Liberation Sans","fontSize":10,"color":"#222222"},"encoding":{"text":{"field":"e"},"x":{"field":"lx","type":"quantitative","scale":{"domain":[-3,3],"range":[559.7,703.7]}},"y":{"field":"ly","type":"quantitative","scale":{"domain":[-3,3],"range":[1144.5,1000.5]}}}},

{"mark":{"type":"rule","color":"#d0d0d0","strokeWidth":1},"encoding":{"x":{"datum":25,"type":"quantitative","scale":{"domain":[0,787],"range":[0,787]}},"x2":{"datum":745},"y":{"datum":0,"type":"quantitative","scale":{"domain":[0,1],"range":[1221,1240]}}}},
{"mark":{"type":"rect","color":"#efefef"},"encoding":{"x":{"datum":0,"type":"quantitative","scale":{"domain":[0,787],"range":[0,787]}},"x2":{"datum":787},"y":{"datum":0.42,"type":"quantitative","scale":{"domain":[0,1],"range":[1221,1240]}},"y2":{"datum":1}}}
]
}
